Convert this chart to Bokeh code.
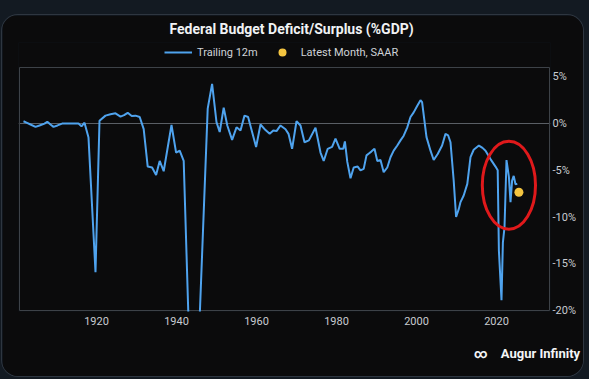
from bokeh.plotting import figure
from bokeh.models import (Range1d, PrintfTickFormatter, Legend, LegendItem, Title,
                          LinearAxis, FixedTicker)
from bokeh.embed import file_html
from bokeh.resources import INLINE

# ---- data ----
years = [1901.75, 1902.5, 1903.5, 1904.75, 1905.75, 1907.0, 1907.7, 1908.5, 1909.25, 1910.25,
         1911.4, 1913.0, 1914.5, 1915.5, 1916.25, 1917.0, 1918.0, 1919.75, 1920.75, 1922.25,
         1923.5, 1924.75, 1926.0, 1926.9, 1927.8, 1928.8, 1929.75, 1930.8, 1931.8, 1932.8,
         1933.9, 1934.9, 1935.8, 1936.8, 1938.75, 1939.9, 1940.8, 1941.8, 1943.5, 1944.5,
         1945.5, 1947.8, 1948.9, 1950.0, 1950.8, 1951.8, 1952.7, 1953.9, 1955.0, 1956.0,
         1957.0, 1957.9, 1958.9, 1959.9, 1961.0, 1962.25, 1963.3, 1964.2, 1965.0, 1966.0,
         1967.25, 1968.0, 1968.9, 1970.0, 1971.0, 1972.0, 1973.1, 1974.75, 1975.3, 1976.0,
         1976.8, 1977.8, 1978.9, 1979.75, 1980.8, 1981.7, 1982.1, 1982.7, 1983.5, 1984.3,
         1985.3, 1986.0, 1986.8, 1987.5, 1988.1, 1988.7, 1989.5, 1990.2, 1991.0, 1991.8,
         1992.7, 1993.5, 1994.3, 1995.2, 1996.0, 1996.8, 1997.7, 1998.5, 1999.3, 2000.2,
         2001.0, 2001.4, 2002.5, 2003.5, 2004.3, 2005.3, 2006.4, 2007.25, 2007.9, 2008.5,
         2009.3, 2009.9, 2010.6, 2011.0, 2011.8, 2012.7, 2013.5, 2014.3, 2015.6, 2016.5,
         2017.25, 2018.5, 2019.75, 2020.3, 2020.6, 2021.25, 2021.6, 2022.0, 2022.5, 2023.1,
         2023.5, 2023.9, 2024.3, 2024.75, 2025.2]
trailing_12m = [0.25, 0.1, -0.1, -0.35, -0.2, 0.0, 0.2, -0.1, -0.35, -0.2,
                0.0, 0.0, 0.0, 0.0, -0.3, 0.1, -1.5, -15.9, 0.3, 0.85,
                1.0, 1.1, 0.75, 0.9, 1.15, 0.8, 0.85, 0.7, -0.6, -4.6,
                -4.7, -5.5, -4.0, -5.1, -0.15, -3.1, -2.9, -4.0, -28.0, -29.0,
                -24.0, 1.6, 4.25, 0.15, -0.9, 1.7, -0.2, -1.75, -0.4, -0.75,
                0.85, 0.7, -0.9, -2.5, -0.1, -0.7, -1.1, -0.75, -0.8, -0.2,
                -0.6, -1.1, -2.7, 0.25, -0.2, -2.0, -1.8, -0.45, -1.6, -3.1,
                -4.0, -2.7, -2.5, -1.6, -2.7, -2.7, -1.9, -4.1, -5.85, -4.7,
                -4.6, -5.0, -4.85, -3.4, -3.2, -3.0, -2.7, -4.0, -3.9, -5.2,
                -4.7, -3.6, -2.9, -2.35, -1.8, -1.3, -0.4, 0.7, 1.2, 1.9,
                2.5, 2.3, -1.45, -2.9, -3.9, -3.25, -2.35, -1.1, -1.25, -2.0,
                -6.1, -10.0, -9.1, -8.4, -7.7, -6.45, -3.6, -2.8, -2.35, -2.6,
                -2.9, -3.8, -4.6, -5.0, -13.6, -18.9, -12.7, -11.1, -3.9, -5.7,
                -8.4, -6.1, -5.6, -6.5, -6.45]
latest_year = [2025.6]
latest_saar = [-7.35]
x_ticks = [1920, 1940, 1960, 1980, 2000, 2020]
y_ticks = [-20, -15, -10, -5, 0, 5]
zero_line = [0]
highlight_x = [2023.1]
highlight_y = [-6.6]
highlight_w = [13.3]
highlight_h = [9.4]

# ---- layout constants (plot box in data units, plus room for the legend) ----
BOX_X0, BOX_X1 = 1900.75, 2033.25
BOX_Y0, BOX_Y1 = -20.0, 6.0
PX_PER_PCT = 243 / 26.0
PX_PER_YR = 4.0
FRAME_X = (BOX_X0 - 1 / PX_PER_YR, BOX_X1 + 1 / PX_PER_YR)
FRAME_Y = (BOX_Y0 - 1 / PX_PER_PCT, BOX_Y1 + 25 / PX_PER_PCT)
LOGO_TICKS = [2016, 2031]
LOGO_TEXT = {2016: "\u221e", 2031: "Augur Infinity"}

FONT = "Roboto"

p = figure(width=581, height=361, output_backend="svg", toolbar_location=None,
           title_location=None,
           x_range=Range1d(*FRAME_X), y_range=Range1d(*FRAME_Y),
           y_axis_location="right",
           min_border_left=16, min_border_right=33, min_border_top=27, min_border_bottom=65,
           background_fill_color="#0b0b0c", border_fill_color="#0b0b0c",
           outline_line_color=None)

p.styles = {"margin-left": "2px", "margin-top": "15px", "border-radius": "16px",
            "overflow": "hidden", "box-shadow": "0 0 0 1px #2e3640"}

for ax in (p.xaxis[0], p.yaxis[0]):
    ax.axis_line_color = None
    ax.major_tick_line_color = None
    ax.minor_tick_line_color = None
    ax.major_tick_out = 0
    ax.major_tick_in = 0
    ax.minor_tick_out = 0
    ax.major_label_text_color = "#c8ccd1"
    ax.major_label_text_font_size = "11px"
    ax.major_label_text_font = FONT
p.xaxis.ticker = x_ticks
p.yaxis.ticker = y_ticks
p.yaxis.formatter = PrintfTickFormatter(format="%d%%")
p.xaxis.major_label_standoff = 5
p.yaxis.major_label_standoff = 2

p.xgrid.visible = False
p.ygrid.ticker = zero_line
p.ygrid.grid_line_color = "#5a5f65"
p.ygrid.grid_line_width = 1

# plot-area box
p.quad(left=[BOX_X0], right=[BOX_X1], bottom=[BOX_Y0], top=[BOX_Y1],
       fill_color=None, line_color="#3d4248", line_width=1)

r_line = p.line(years, trailing_12m, line_color="#4fa3ee", line_width=2)
r_dot = p.scatter(latest_year, latest_saar, size=9, fill_color="#f3c440", line_color=None)
p.ellipse(x=highlight_x, y=highlight_y, width=highlight_w, height=highlight_h,
          fill_color=None, line_color="#e0191b", line_width=3)

legend = Legend(items=[LegendItem(label="Trailing 12m", renderers=[r_line]),
                       LegendItem(label="Latest Month, SAAR", renderers=[r_dot])],
                location=(146, 249), orientation="horizontal",
                background_fill_alpha=0, border_line_color=None, padding=0, margin=0,
                spacing=10, glyph_width=28, glyph_height=20, label_standoff=5,
                label_text_color="#cfd3d8", label_text_font_size="11px", label_text_font=FONT)
p.add_layout(legend, "center")

p.add_layout(Title(text="Federal Budget Deficit/Surplus (%GDP)", align="left", offset=151,
                   vertical_align="top", standoff=7, text_color="#f0f2f4",
                   text_font_size="14px", text_font_style="bold", text_font=FONT), "above")

logo_axis = LinearAxis(ticker=FixedTicker(ticks=LOGO_TICKS), major_label_overrides=LOGO_TEXT,
                       axis_line_color=None, major_tick_line_color=None,
                       minor_tick_line_color=None, major_tick_out=0, major_tick_in=0,
                       minor_tick_out=0, major_label_standoff=18,
                       major_label_text_color="#f4f5f7", major_label_text_font_size="13px",
                       major_label_text_font_style="bold", major_label_text_font=FONT)
p.add_layout(logo_axis, "below")

html = file_html(p, INLINE)
open("out.html", "w").write(html.replace("<body>", '<body style="background:#131a22">'))
